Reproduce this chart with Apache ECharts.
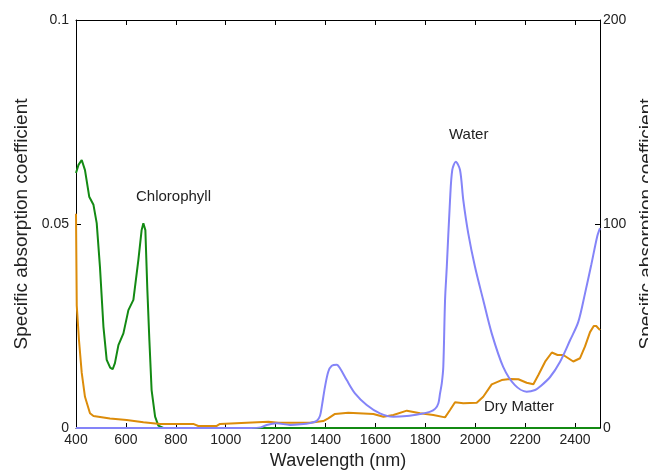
<!DOCTYPE html>
<html>
<head>
<meta charset="utf-8">
<script src="https://cdn.jsdelivr.net/npm/echarts@6/dist/echarts.min.js"></script>
<style>
html,body{margin:0;padding:0;background:#fff;}
#chart{width:648px;height:476px;}
</style>
</head>
<body>
<div id="chart"></div>
<script>
// Chlorophyll specific absorption (left axis)
var chlWl  = [400, 410, 423, 436, 453, 470, 483, 496, 510, 523, 537, 547, 556, 570, 590, 610, 630, 650, 663, 670, 678, 686, 694, 703, 717, 730, 750, 2500];
var chlVal = [0.0625, 0.0645, 0.0657, 0.0632, 0.0567, 0.0547, 0.0502, 0.0395, 0.0248, 0.0167, 0.0148, 0.0144, 0.0159, 0.0203, 0.0232, 0.0289, 0.0314, 0.0412, 0.0485, 0.0502, 0.0485, 0.0338, 0.0216, 0.0093, 0.0028, 0.0006, 0, 0];

// Water absorption (right axis)
var waterWl  = [400, 1100, 1140, 1164, 1204, 1258, 1300, 1338, 1365, 1378, 1385, 1398, 1411, 1425, 1445, 1458, 1485, 1518, 1565, 1618, 1672, 1726, 1779, 1820, 1840, 1852, 1859, 1866, 1872, 1879, 1886, 1899, 1908, 1922, 1939, 1952, 1972, 1999, 2032, 2066, 2112, 2159, 2206, 2240, 2260, 2300, 2340, 2380, 2413, 2440, 2465, 2489, 2500];
var waterVal = [0, 0, 0.3, 1.5, 2.3, 1.5, 1.8, 2.4, 3.5, 6, 10.5, 20.3, 27.6, 30.5, 31, 29.3, 23.5, 17, 11.3, 7.2, 5.5, 5.9, 6.9, 8, 9.5, 12, 17, 22, 30, 62.7, 79, 111.8, 126.5, 130.5, 126.5, 111.8, 95.4, 79, 62.7, 46.4, 30, 21, 17.8, 18.6, 20.3, 25, 32.5, 43, 52, 66, 80, 94, 98];

// Dry matter specific absorption (right axis)
var dmWl  = [400, 403, 412, 423, 436, 456, 470, 536, 603, 670, 737, 870, 890, 964, 977, 1084, 1171, 1211, 1338, 1391, 1411, 1438, 1491, 1592, 1632, 1672, 1726, 1779, 1832, 1879, 1899, 1919, 1952, 2006, 2032, 2066, 2106, 2139, 2173, 2206, 2233, 2253, 2280, 2307, 2330, 2353, 2393, 2420, 2440, 2460, 2475, 2485, 2500];
var dmVal = [105, 60, 43, 27, 15.3, 7.2, 5.9, 4.7, 3.9, 2.8, 2.0, 2.0, 1.0, 1.0, 2.0, 2.6, 3.1, 2.6, 2.6, 3.4, 4.7, 6.9, 7.5, 6.9, 5.5, 6.4, 8.5, 7.2, 6.4, 5.2, 8.8, 12.6, 12.1, 12.4, 15.3, 21.4, 23.5, 24.0, 23.9, 22.2, 21.4, 26, 32.5, 37, 35.8, 35.8, 32.6, 34.2, 40, 47, 50, 50, 48];

var xTicks = {min: 400, max: 2500, interval: 200};
var leftTicks = {min: 0, max: 0.1, interval: 0.05};
var rightTicks = {min: 0, max: 200, interval: 100};

function pairs(a, b) { return a.map(function (v, i) { return [v, b[i]]; }); }
function plain(v) { return String(v); }

var FONT = "'Liberation Sans', Arial, sans-serif";
var TXT = '#222';
var axisLineStyle = {show: true, onZero: false, lineStyle: {color: '#000', width: 1}};
var tickStyle = {show: true, inside: true, length: 5, lineStyle: {color: '#000', width: 1}};

var chart = echarts.init(document.getElementById('chart'), null, {renderer: 'canvas'});
chart.setOption({
  animation: false,
  backgroundColor: '#fff',
  grid: {left: 76, right: 48, top: 20, bottom: 48, containLabel: false, outerBoundsMode: 'none'},
  xAxis: [{
    type: 'value', position: 'bottom',
    min: xTicks.min, max: xTicks.max, interval: xTicks.interval,
    axisLine: axisLineStyle, axisTick: tickStyle, splitLine: {show: false},
    axisLabel: {show: true, margin: 5, color: TXT, fontFamily: FONT, fontSize: 14, showMaxLabel: false, formatter: plain},
    name: 'Wavelength (nm)', nameLocation: 'middle', nameGap: 24,
    nameTextStyle: {color: TXT, fontFamily: FONT, fontSize: 18}
  }, {
    type: 'value', position: 'top',
    min: xTicks.min, max: xTicks.max, interval: xTicks.interval,
    axisLine: axisLineStyle, axisTick: tickStyle, splitLine: {show: false},
    axisLabel: {show: false}
  }],
  yAxis: [{
    type: 'value', position: 'left',
    min: leftTicks.min, max: leftTicks.max, interval: leftTicks.interval,
    axisLine: axisLineStyle, axisTick: tickStyle, splitLine: {show: false},
    axisLabel: {show: true, margin: 7, color: TXT, fontFamily: FONT, fontSize: 14, formatter: plain},
    name: 'Specific absorption coefficient', nameLocation: 'middle', nameGap: 44, nameRotate: 90,
    nameTextStyle: {color: TXT, fontFamily: FONT, fontSize: 19}
  }, {
    type: 'value', position: 'right',
    min: rightTicks.min, max: rightTicks.max, interval: rightTicks.interval,
    axisLine: axisLineStyle, axisTick: tickStyle, splitLine: {show: false},
    axisLabel: {show: true, margin: 3, color: TXT, fontFamily: FONT, fontSize: 14, formatter: plain},
    name: 'Specific absorption coefficient', nameLocation: 'middle', nameGap: 35, nameRotate: 90,
    nameTextStyle: {color: TXT, fontFamily: FONT, fontSize: 19}
  }],
  series: [{
    name: 'Chlorophyll', type: 'line', xAxisIndex: 0, yAxisIndex: 0,
    data: pairs(chlWl, chlVal), showSymbol: false, symbol: 'none',
    lineStyle: {color: '#138a13', width: 2}
  }, {
    name: 'Dry Matter', type: 'line', xAxisIndex: 0, yAxisIndex: 1,
    data: pairs(dmWl, dmVal), showSymbol: false, symbol: 'none',
    lineStyle: {color: '#dc8c0a', width: 2}
  }, {
    name: 'Water', type: 'line', xAxisIndex: 0, yAxisIndex: 1,
    data: pairs(waterWl, waterVal), showSymbol: false, symbol: 'none', smooth: 0.3,
    lineStyle: {color: '#8484f8', width: 2}
  }],
  graphic: [
    {type: 'text', left: 136, top: 189, style: {text: 'Chlorophyll', fill: TXT, font: '15px ' + FONT}},
    {type: 'text', left: 449, top: 127, style: {text: 'Water', fill: TXT, font: '15px ' + FONT}},
    {type: 'text', left: 484, top: 399, style: {text: 'Dry Matter', fill: TXT, font: '15px ' + FONT}}
  ]
});
</script>
</body>
</html>
